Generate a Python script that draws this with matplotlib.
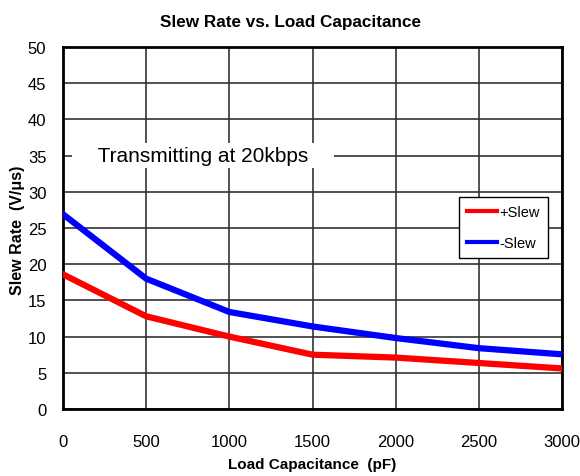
import matplotlib
matplotlib.use("Agg")
import matplotlib.pyplot as plt

cap = [0, 500, 1000, 1500, 2000, 2500, 3000]
slew_pos = [18.6, 12.8, 10.0, 7.5, 7.1, 6.35, 5.6]
slew_neg = [26.9, 18.0, 13.4, 11.4, 9.8, 8.4, 7.55]
xticks = [0, 500, 1000, 1500, 2000, 2500, 3000]
yticks = [0, 5, 10, 15, 20, 25, 30, 35, 40, 45, 50]

plt.rcParams['font.family'] = ['Liberation Sans', 'DejaVu Sans']

fig = plt.figure(figsize=(5.8, 4.77), dpi=100)
ax = fig.add_axes([0.1086, 0.1405, 0.8604, 0.7589])

ax.plot(cap, slew_pos, color='#ff0000', lw=4.5, label='+Slew', zorder=3)
ax.plot(cap, slew_neg, color='#0000ff', lw=4.5, label='-Slew', zorder=3)

ax.set_xlim(0, 3000)
ax.set_ylim(0, 50)
ax.set_xticks(xticks)
ax.set_yticks(yticks)
ax.grid(True, color='#333333', lw=1.2)
ax.set_axisbelow(True)
for s in ax.spines.values():
    s.set_linewidth(2)
    s.set_color('black')
ax.tick_params(axis='x', length=0, labelsize=12, pad=18)
ax.tick_params(axis='y', length=0, labelsize=12, pad=12)

fig.text(0.5, 1 - 22 / 477, 'Slew Rate vs. Load Capacitance', fontsize=12.3, fontweight='bold',
         ha='center', va='center')
ax.set_xlabel('Load Capacitance  (pF)', fontsize=11, fontweight='bold', labelpad=6)
fig.text(18 / 580, 1 - 230 / 477, 'Slew Rate  (V/μs)', fontsize=11.5, fontweight='bold',
         rotation=90, ha='center', va='center')

ax.text(72, 35, '    Transmitting at 20kbps    ', fontsize=15, va='center', ha='left',
        bbox=dict(facecolor='white', edgecolor='none', pad=2), zorder=2)

leg = ax.legend(loc='upper right', bbox_to_anchor=(0.972, 0.585), fontsize=10.5,
                frameon=True, fancybox=False, framealpha=1, edgecolor='black',
                handlelength=2.1, handletextpad=0.15, borderpad=0.55, labelspacing=1.15,
                borderaxespad=0)
leg.get_frame().set_linewidth(1)
for l in leg.get_lines():
    l.set_linewidth(3)

fig.savefig('out.png', dpi=100, facecolor='white')
